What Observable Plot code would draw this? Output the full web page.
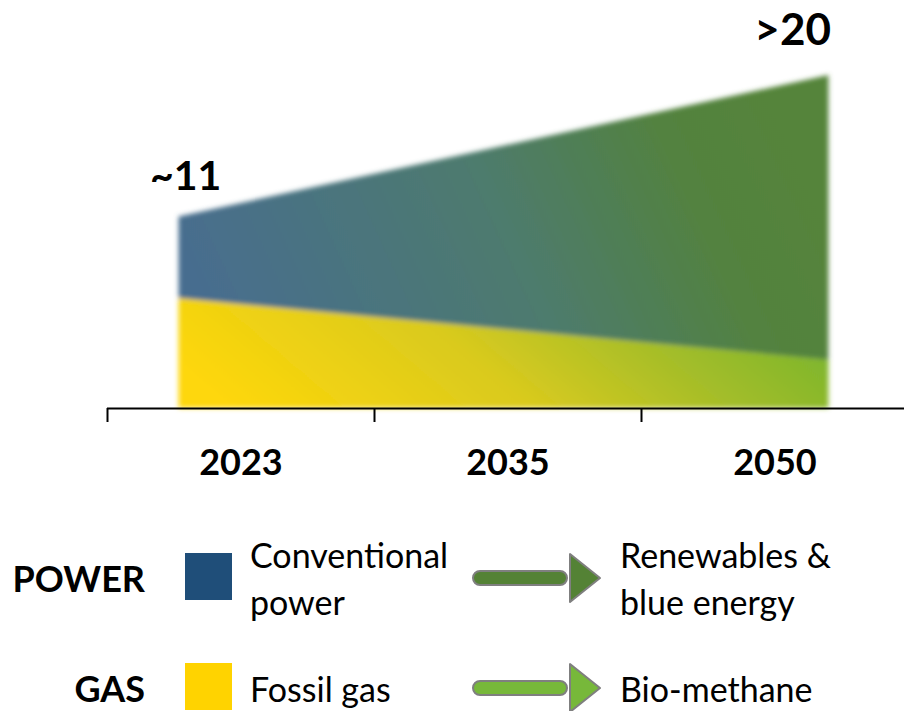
<!DOCTYPE html>
<html><head><meta charset="utf-8">
<script src="https://cdn.jsdelivr.net/npm/d3@7"></script>
<script src="https://cdn.jsdelivr.net/npm/@observablehq/plot@0.6"></script>
<style>
body{margin:0;background:#fff;font-family:Lato,"Open Sans",sans-serif;}
#wrap{position:relative;width:904px;height:711px;overflow:hidden;background:#fff;}
#chart{position:absolute;left:0;top:0;}
#legend{position:absolute;left:0;top:510px;width:904px;height:201px;}
.lg{position:absolute;color:#000;font-size:34px;line-height:47px;white-space:nowrap;}
.grp{font-weight:700;font-size:36px;text-align:right;width:145px;left:0;}
.sw{position:absolute;left:185px;width:47px;height:47px;}
.arrow{position:absolute;left:468px;}
</style>
</head><body>
<div id="wrap"><div id="chart"></div><div id="legend"></div></div>
<script>
// ---- data ----
const categories = ["2023", "2035", "2050"];
const areaX = [-0.232, 2.202];          // start / end of the band along the timeline (category index units)
const gasValues = [6.6, 2.9];            // fossil gas -> bio-methane
const totalValues = [11.5, 20];          // total (gas + power)
const endLabels = ["~11", ">20"];
const boundaries = [-0.5, 0.5, 1.5];     // axis tick positions between categories

const groups = ["POWER", "GAS"];
const groupColors = ["#1f4e79", "#ffd300"];
const fromLabels = [["Conventional", "power"], ["Fossil gas"]];
const toLabels = [["Renewables &", "blue energy"], ["Bio-methane"]];
const arrowColors = ["#548235", "#77b83a"];

const rows = areaX.map((x, i) => ({x, gas: gasValues[i], total: totalValues[i], label: endLabels[i]}));

const chart = Plot.plot({
  width: 904, height: 510,
  marginTop: 75, marginBottom: 102, marginLeft: 107, marginRight: 0,
  x: {domain: [-0.5, 2.5], range: [107, 908], axis: null},
  y: {domain: [0, 20], axis: null},
  style: {fontFamily: "Lato, 'Open Sans', sans-serif", background: "white", overflow: "visible", color: "#000"},
  marks: [
    Plot.areaY(rows, {x: "x", y1: 0, y2: "gas", fill: "url(#gasGrad)"}),
    Plot.areaY(rows, {x: "x", y1: "gas", y2: "total", fill: "url(#powerGrad)"}),
    Plot.ruleY([0], {stroke: "#000", strokeWidth: 2}),
    Plot.ruleX(boundaries, {y1: 0, y2: 0, insetBottom: -14, stroke: "#000", strokeWidth: 2}),
    Plot.text(categories, {x: (d, i) => i, y: 0, text: d => d, dy: 55, fontSize: 36, fontWeight: 700, fill: "#000"}),
    Plot.text([rows[0]], {x: "x", y: "total", text: "label", textAnchor: "start", dx: -29, dy: -40, fontSize: 41, fontWeight: 700, fill: "#000"}),
    Plot.text([rows[1]], {x: "x", y: "total", text: "label", textAnchor: "end", dx: 2, dy: -45, fontSize: 44, fontWeight: 700, fill: "#000"})
  ]
});

const svg = d3.select(chart);
const defs = svg.insert("defs", ":first-child");
const f = defs.append("filter").attr("id", "soft")
  .attr("x", "-5%").attr("y", "-10%").attr("width", "110%").attr("height", "120%");
f.append("feGaussianBlur").attr("stdDeviation", 2.5);

function grad(id, stops) {
  const g = defs.append("linearGradient").attr("id", id)
    .attr("x1", "0%").attr("y1", "60%").attr("x2", "100%").attr("y2", "40%");
  stops.forEach(([o, c]) => g.append("stop").attr("offset", o).attr("stop-color", c));
}
grad("powerGrad", [["0%", "#476d8f"], ["50%", "#4e7b6d"], ["80%", "#52823f"], ["100%", "#55843a"]]);
grad("gasGrad", [["0%", "#fed70a"], ["45%", "#d9ca1e"], ["75%", "#a3bd29"], ["100%", "#7ab52e"]]);

const areas = svg.selectAll('g[aria-label="area"]').nodes();
const wrapG = svg.insert("g", () => areas[0]).attr("filter", "url(#soft)");
areas.forEach(n => wrapG.node().appendChild(n));

document.getElementById("chart").appendChild(chart);

// ---- legend ----
const legend = d3.select("#legend");
const rowCenters = [68, 178];  // px within legend
groups.forEach((g, i) => {
  const c = rowCenters[i];
  legend.append("div").attr("class", "lg grp").style("top", (c - 23.5) + "px").text(g);
  legend.append("div").attr("class", "sw").style("top", (c - 25) + "px").style("background", groupColors[i]);
  const fl = fromLabels[i], tl = toLabels[i];
  const top = c - 23.5 * fl.length;
  legend.append("div").attr("class", "lg").style("left", "250px").style("top", top + "px").html(fl.join("<br>"));
  legend.append("div").attr("class", "lg").style("left", "620px").style("top", top + "px").html(tl.join("<br>"));
  const a = legend.append("svg").attr("class", "arrow").attr("width", 140).attr("height", 56)
    .style("top", (c - 28) + "px");
  a.append("rect").attr("x", 5).attr("y", 21).attr("width", 94).attr("height", 14).attr("rx", 7)
    .attr("fill", arrowColors[i]).attr("stroke", "#7f7f7f").attr("stroke-width", 2);
  a.append("path").attr("d", "M102,4 L102,52 L132,28 Z")
    .attr("fill", arrowColors[i]).attr("stroke", "#7f7f7f").attr("stroke-width", 2).attr("stroke-linejoin", "round");
});
</script>
</body></html>
